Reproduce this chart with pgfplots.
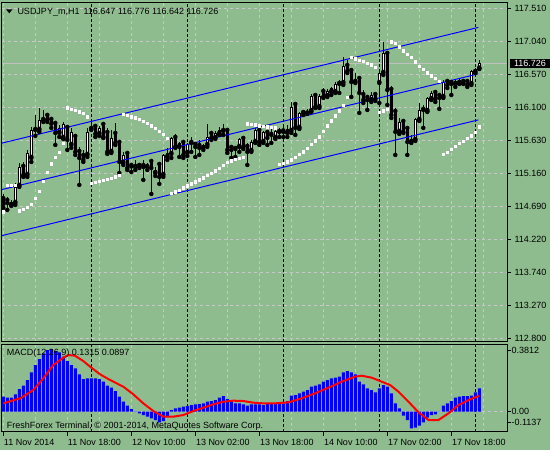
\documentclass[border=0pt]{standalone}
\usepackage{pgfplots}
\pgfplotsset{compat=1.18}
\usepackage{pgfplotstable}
\usepackage{fontspec}
\setmainfont{Liberation Sans}

\definecolor{mtbg}{RGB}{143,188,143}
\definecolor{mtgrid}{RGB}{200,200,200}
\definecolor{mtprice}{RGB}{192,192,192}
\definecolor{mtblue}{RGB}{0,0,255}
\definecolor{mtred}{RGB}{255,0,0}
\newcommand\mtf{\fontsize{9}{10.8}\selectfont}

% H1 bars: open high low close, parabolic SAR, MACD main
\pgfplotstableread{
i O H L C S M
0 114.786 114.861 114.662 114.715 114.608 0.0846
1 114.762 114.818 114.634 114.733 114.989 0.0789
2 114.705 114.776 114.691 114.747 114.989 0.0789
3 114.733 115.018 114.705 114.961 114.989 0.0978
4 114.975 115.303 114.961 115.246 114.623 0.1280
5 115.246 115.317 115.103 115.132 114.643 0.1468
6 115.132 115.488 115.103 115.445 114.671 0.1789
7 115.374 115.816 115.317 115.773 114.718 0.2223
8 115.773 115.986 115.688 115.787 114.804 0.2639
9 115.773 116.086 115.745 115.916 114.903 0.2978
10 115.916 116.058 115.887 115.948 115.046 0.3299
11 115.973 115.986 115.887 115.916 115.174 0.3488
12 115.916 115.958 115.802 115.859 115.295 0.3545
13 115.859 115.887 115.559 115.730 115.388 0.3431
14 115.730 115.844 115.673 115.802 115.459 0.3356
15 115.659 115.887 115.645 115.859 115.587 0.3111
16 115.802 115.830 115.488 115.631 116.090 0.2865
17 115.559 115.802 115.517 115.745 116.072 0.2639
18 115.673 115.716 115.417 115.460 116.053 0.2450
19 115.460 115.531 114.989 115.374 116.036 0.2110
20 115.402 115.488 115.317 115.346 116.010 0.1846
21 115.417 115.802 115.388 115.745 115.962 0.1884
22 115.787 115.887 115.773 115.816 115.013 0.1884
23 115.816 115.830 115.673 115.716 115.027 0.1884
24 115.716 115.830 115.688 115.802 115.046 0.1846
25 115.844 115.859 115.659 115.673 115.060 0.1695
26 115.730 115.802 115.431 115.460 115.074 0.1468
27 115.460 115.773 115.445 115.659 115.084 0.1355
28 115.716 115.873 115.559 115.588 115.107 0.1166
29 115.588 115.631 115.160 115.317 115.131 0.0846
30 115.303 115.460 115.274 115.417 115.996 0.0562
31 115.431 115.460 115.203 115.231 115.986 0.0336
32 115.260 115.303 115.174 115.253 115.962 0.0147
33 115.246 115.346 115.203 115.260 115.948 -0.0020
34 115.260 115.303 115.231 115.267 115.929 -0.0098
35 115.260 115.346 115.061 115.246 115.901 -0.0193
36 115.246 115.303 115.203 115.260 115.868 -0.0287
37 115.317 115.346 114.861 115.231 115.834 -0.0381
38 115.160 115.246 115.117 115.203 115.797 -0.0476
39 115.274 115.303 115.004 115.103 115.758 -0.0608
40 115.132 115.431 115.103 115.417 115.711 -0.0532
41 115.388 115.517 115.346 115.445 115.658 -0.0287
42 115.431 115.673 115.374 115.659 114.870 0.0091
43 115.659 115.716 115.517 115.531 114.893 0.0185
44 115.531 115.602 115.388 115.588 114.918 0.0223
45 115.588 115.602 115.374 115.417 114.950 0.0279
46 115.445 115.588 115.402 115.574 114.979 0.0317
47 115.588 115.673 115.460 115.602 115.007 0.0374
48 115.559 115.602 115.388 115.531 115.036 0.0411
49 115.545 115.631 115.417 115.517 115.064 0.0430
50 115.517 115.574 115.488 115.559 115.093 0.0468
51 115.559 115.859 115.531 115.673 115.127 0.0562
52 115.716 115.745 115.631 115.659 115.155 0.0600
53 115.659 115.759 115.645 115.730 115.193 0.0657
54 115.716 115.816 115.702 115.773 115.227 0.0789
55 115.759 115.859 115.702 115.766 115.274 0.0883
56 115.759 115.787 115.445 115.488 115.312 0.0713
57 115.517 115.545 115.374 115.488 115.338 0.0600
58 115.502 115.545 115.388 115.517 115.359 0.0468
59 115.531 115.659 115.460 115.645 115.369 0.0468
60 115.645 115.673 115.502 115.531 115.388 0.0411
61 115.531 115.588 115.274 115.460 115.865 0.0336
62 115.474 115.631 115.460 115.602 115.858 0.0411
63 115.602 115.802 115.588 115.773 115.851 0.0411
64 115.759 115.773 115.559 115.602 115.837 0.0411
65 115.602 115.759 115.588 115.745 115.830 0.0374
66 115.730 115.745 115.559 115.659 115.822 0.0468
67 115.702 115.802 115.588 115.716 115.815 0.0468
68 115.659 115.773 115.645 115.759 115.808 0.0468
69 115.745 115.802 115.673 115.752 115.288 0.0468
70 115.752 115.844 115.673 115.745 115.302 0.0468
71 115.730 115.844 115.673 115.787 115.324 0.0600
72 115.759 116.172 115.730 116.100 115.352 0.0902
73 116.129 116.143 115.702 115.802 115.388 0.0940
74 115.802 116.029 115.787 116.015 115.431 0.1034
75 116.015 116.058 115.986 116.022 115.466 0.1129
76 116.008 116.072 116.001 116.043 115.516 0.1223
77 116.043 116.286 116.029 116.257 115.573 0.1412
78 116.257 116.286 116.086 116.100 115.623 0.1468
79 116.100 116.286 116.086 116.257 115.680 0.1544
80 116.314 116.371 116.229 116.243 115.758 0.1695
81 116.257 116.357 116.243 116.328 115.834 0.1789
82 116.314 116.390 116.271 116.371 115.908 0.1884
83 116.314 116.457 116.300 116.428 115.979 0.1921
84 116.428 116.485 116.300 116.457 116.050 0.1978
85 116.442 116.813 116.414 116.685 116.122 0.2223
86 116.685 116.770 116.585 116.613 116.243 0.2299
87 116.613 116.656 116.243 116.457 116.809 0.2223
88 116.457 116.585 116.442 116.499 116.791 0.2110
89 116.499 116.528 116.015 116.300 116.773 0.1695
90 116.271 116.343 116.157 116.200 116.751 0.1544
91 116.229 116.271 116.058 116.200 116.727 0.1317
92 116.200 116.314 116.172 116.271 116.703 0.1223
93 116.271 116.300 116.186 116.214 116.670 0.1091
94 116.442 116.628 116.157 116.585 116.029 0.1317
95 116.585 117.027 116.556 116.870 116.050 0.1506
96 116.856 116.870 116.129 116.343 116.072 0.1412
97 116.343 116.400 115.944 115.986 117.031 0.1034
98 116.029 116.086 115.417 115.745 117.012 0.0468
99 115.745 115.944 115.716 115.887 116.962 0.0185
100 115.887 115.916 115.730 115.745 116.905 -0.0230
101 115.787 115.802 115.417 115.602 116.856 -0.0476
102 115.602 115.702 115.588 115.645 116.806 -0.0948
103 115.631 115.944 115.616 115.930 116.746 -0.0910
104 115.916 116.157 115.901 116.058 116.685 -0.0797
105 116.058 116.129 115.802 116.072 116.638 -0.0608
106 116.043 116.243 116.029 116.229 116.592 -0.0344
107 116.214 116.328 116.200 116.300 116.549 -0.0193
108 116.300 116.328 116.172 116.214 116.509 -0.0155
109 116.257 116.271 116.072 116.229 116.471 -0.0004
110 116.243 116.485 116.229 116.457 115.431 0.0336
111 116.457 116.485 116.371 116.414 115.459 0.0468
112 116.442 116.485 116.271 116.428 115.502 0.0600
113 116.428 116.499 116.386 116.471 115.545 0.0789
114 116.442 116.499 116.428 116.485 115.583 0.0846
115 116.457 116.485 116.428 116.442 115.619 0.0883
116 116.457 116.471 116.386 116.414 115.654 0.0883
117 116.428 116.628 116.414 116.613 115.694 0.0902
118 116.599 116.656 116.585 116.642 115.744 0.1091
119 116.647 116.776 116.642 116.726 115.820 0.1315
}\bars

\pgfplotsset{
  mtpanel/.style={
    scale only axis, width=505pt,
    xmin=-0.325, xmax=125.925,
    axis line style={black, line width=1pt},
    tick align=outside,
    ticklabel style={font=\mtf, text=black},
    ytick pos=right, yticklabel pos=right,
    tick style={black, line width=1pt},
    major tick length=4pt, minor tick length=0pt,
    grid style={mtgrid, line width=1pt, dash pattern=on 3pt off 3pt},
    extra x ticks={22,46,70,94,118}, extra x tick labels={},
    extra x tick style={grid=major, major tick length=0pt,
      major grid style={black, line width=1pt, dash pattern=on 3pt off 2pt}},
  },
}

\begin{document}
\begin{tikzpicture}
\fill[mtbg] (0pt,0pt) rectangle (550pt,450pt);

% price window
\begin{axis}[mtpanel,
  at={(2pt,108pt)}, anchor=south west, height=339.5pt,
  ymin=112.7515, ymax=117.589,
  xtick={0,8,...,120}, xticklabels={}, x tick style={draw=none},
  xmajorgrids, ymajorgrids,
  ytick={112.799,113.270,113.740,114.211,114.681,115.152,115.622,116.093,116.563,117.034,117.504},
  yticklabels={112.800,113.270,113.740,114.220,114.690,115.160,115.630,116.100,116.570,117.040,117.510},
  extra y ticks={116.726}, extra y tick labels={},
  extra y tick style={grid=major, major tick length=0pt,
    major grid style={mtprice, solid, line width=1pt}},
]
% wicks
\addplot[only marks, mark=none, forget plot,
  error bars/.cd, y dir=plus, y explicit, error mark=none,
  error bar style={draw=black, line width=1pt}]
  table[x=i, y=L, y error plus expr=\thisrow{H}-\thisrow{L}] {\bars};
% bodies
\addplot[only marks, mark=none, forget plot,
  error bars/.cd, y dir=plus, y explicit, error mark=none,
  error bar style={draw=black, line width=3.2pt}]
  table[x=i, y expr={min(\thisrow{O},\thisrow{C})},
        y error plus expr={max(abs(\thisrow{C}-\thisrow{O}),0.0143)}] {\bars};
\addplot[only marks, mark=none, forget plot,
  error bars/.cd, y dir=plus, y explicit, error mark=none,
  error bar style={draw=white, line width=1.4pt}]
  table[x=i, y expr={\thisrow{O}+0.0143},
        y error plus expr={max(\thisrow{C}-\thisrow{O}-0.0286,0)}] {\bars};
% channel
\addplot[mtblue, line width=1pt] coordinates {(-0.5,115.583) (118.75,117.234)};
\addplot[mtblue, line width=1pt] coordinates {(-0.5,114.921) (118.75,116.572)};
\addplot[mtblue, line width=1pt] coordinates {(-0.5,114.265) (118.75,115.916)};
% parabolic SAR
\addplot[white, only marks, mark=square*, mark size=1.15pt,
  mark options={fill=white, draw=white, line width=0.2pt}] table[x=i, y=S] {\bars};
\end{axis}

% MACD window
\begin{axis}[mtpanel,
  at={(2pt,18.3pt)}, anchor=south west, height=87.4pt,
  ymin=-0.1137, ymax=0.3812,
  xtick pos=bottom,
  xtick={0,16,...,112}, minor xtick={8,24,...,120},
  xticklabels={11 Nov 2014,11 Nov 18:00,12 Nov 10:00,13 Nov 02:00,13 Nov 18:00,14 Nov 10:00,17 Nov 02:00,17 Nov 18:00},
  xticklabel style={anchor=north west, inner sep=0pt, xshift=0.5pt, yshift=-3pt},
  xmajorgrids, xminorgrids,
  ytick={-0.0605,0,0.3445}, yticklabels={-0.1137,0.00,0.3812},
  yticklabel style={xshift=-3pt},
  extra y ticks={0}, extra y tick labels={},
  extra y tick style={grid=major, major tick length=0pt},
]
\addplot[ybar, bar width=3pt, bar shift=0pt, fill=mtblue, draw=none]
  table[x=i, y=M] {\bars};
\addplot[mtred, line width=2pt] coordinates {
(0,0.0468) (4.2,0.0751) (7.5,0.1223) (10,0.1884) (12.5,0.2639) (15,0.3054)
(16.3,0.3205) (17.9,0.3167) (20,0.2865) (21.7,0.2544) (24.2,0.2110) (26.7,0.1789)
(30,0.1412) (32.5,0.0978) (35,0.0468) (37.5,0.0034) (40,-0.0287) (42.5,-0.0287)
(45,-0.0193) (47.5,0.0034) (50,0.0223) (52.5,0.0411) (55,0.0562) (57.5,0.0619)
(60,0.0600) (62.5,0.0506) (65,0.0468) (67.9,0.0468) (71.3,0.0525) (74.6,0.0751)
(77.9,0.1034) (81.3,0.1355) (84.6,0.1695) (87.9,0.1978) (89.6,0.2035) (92.1,0.1921)
(94.6,0.1695) (96.7,0.1506) (98.8,0.1129) (101.3,0.0562) (103.8,-0.0042) (106.3,-0.0476)
(108.8,-0.0476) (111.3,-0.0098) (113.8,0.0374) (116.3,0.0657) (119,0.0897)
};
\end{axis}

% window captions
\fill[black] (6pt,440.7pt) -- (12.5pt,440.7pt) -- (9.25pt,436.7pt) -- cycle;
\node[anchor=base west, inner sep=0pt, font=\mtf] at (17.3pt,435pt)
  {USDJPY\_m,H1\hspace{1.5pt} 116.647 116.776 116.642 116.726};
\node[anchor=base west, inner sep=0pt, font=\mtf] at (6.7pt,94pt)
  {MACD(12,26,9) 0.1315 0.0897};
\node[anchor=base west, inner sep=0pt, font=\mtf] at (6.7pt,21.3pt)
  {FreshForex Terminal, © 2001-2014, MetaQuotes Software Corp.};
\node[anchor=west, fill=black, text=white, inner sep=0pt, minimum width=41pt,
  minimum height=9.3pt, font=\mtf] at (509.3pt,386.3pt) {116.726};
\pgfresetboundingbox
\path[use as bounding box] (0pt,0pt) rectangle (550pt,450pt);
\end{tikzpicture}
\end{document}
